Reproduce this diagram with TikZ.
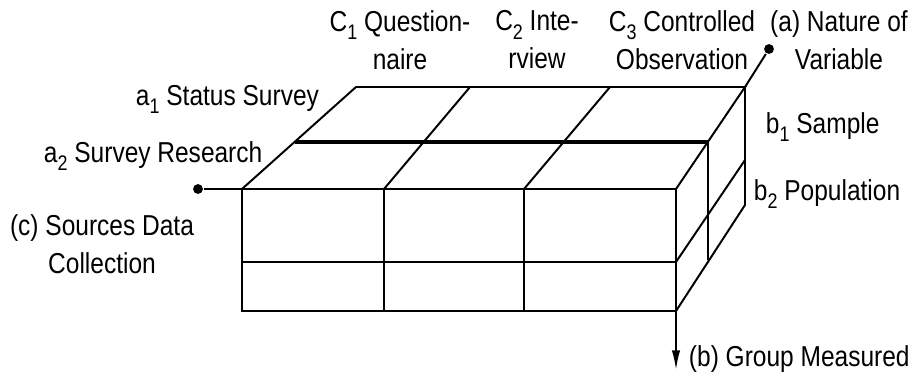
\documentclass[tikz,border=0pt]{standalone}
\usepackage{fontspec}
\setmainfont[FakeStretch=0.85]{Liberation Sans}
\usepackage{tikz}
\usetikzlibrary{arrows.meta}
\newcommand\lowidx[1]{\raisebox{-6pt}{\fontsize{15}{15}\selectfont #1}}

\begin{document}
\begin{tikzpicture}[x=0.025cm,y=-0.025cm,line width=1.4pt,
    lbl/.style={inner sep=0pt,font=\fontsize{20.5}{27}\selectfont},
    twoline/.style={lbl,align=center},
    dot/.style={circle,fill,inner sep=0pt,minimum size=7pt}]
    \useasboundingbox (0,0) rectangle (920,375);

    \coordinate (f0) at (242,189);
    \coordinate (f1) at (384,189);
    \coordinate (f2) at (524,189);
    \coordinate (f3) at (676,189);
    \coordinate (h0) at (242,262);
    \coordinate (h3) at (676,262);
    \coordinate (g0) at (242,311);
    \coordinate (g1) at (384,311);
    \coordinate (g2) at (524,311);
    \coordinate (g3) at (676,311);
    \coordinate (b0) at (356,87);
    \coordinate (b1) at (470,87);
    \coordinate (b2) at (610,87);
    \coordinate (b3) at (745,87);
    \coordinate (m0) at (295,142);
    \coordinate (m3) at (708,142);
    \coordinate (r3) at (745,205);
    \coordinate (rm) at (745,160);
    \coordinate (rd) at (708,260);
    \coordinate (bend) at (676,370);

    \draw (f0) -- (f3) -- (g3) -- (g0) -- cycle;
    \draw (f1) -- (g1) (f2) -- (g2) (h0) -- (h3);
    \draw (f0) -- (b0) -- (b3) -- (f3);
    \draw (f1) -- (b1) (f2) -- (b2);
    \draw[line width=2.2pt] (m0) -- (m3);
    \draw (b3) -- (r3) -- (g3);
    \draw (h3) -- (rm) (m3) -- (rd);

    \node[dot] (adot) at (769,49) {};
    \node[dot] (cdot) at (198,189) {};
    \draw (b3) -- (adot);
    \draw (cdot) -- (f0);
    \draw[-{Latex[length=14pt,width=6pt]}] (g3) -- (bend);

    \node[twoline] (c1) at (400,40) {C\lowidx{1} Question-\\naire};
    \node[twoline] (c2) at (537,40) {C\lowidx{2} Inte-\\rview};
    \node[twoline] (c3) at (682,40) {C\lowidx{3} Controlled\\Observation};
    \node[twoline] (natvar) at (839,40) {(a) Nature of\\Variable};
    \node[twoline] (srcdata) at (102,244) {(c) Sources Data\\Collection};
    \node[lbl,anchor=base west] (a1) at (135,105) {a\lowidx{1} Status Survey};
    \node[lbl,anchor=base west] (a2) at (43,162) {a\lowidx{2} Survey Research};
    \node[lbl,anchor=base west] (b1lbl) at (765,133) {b\lowidx{1} Sample};
    \node[lbl,anchor=base west] (b2lbl) at (753,200) {b\lowidx{2} Population};
    \node[lbl,anchor=base west] (grp) at (688,366) {(b) Group Measured};
\end{tikzpicture}
\end{document}
